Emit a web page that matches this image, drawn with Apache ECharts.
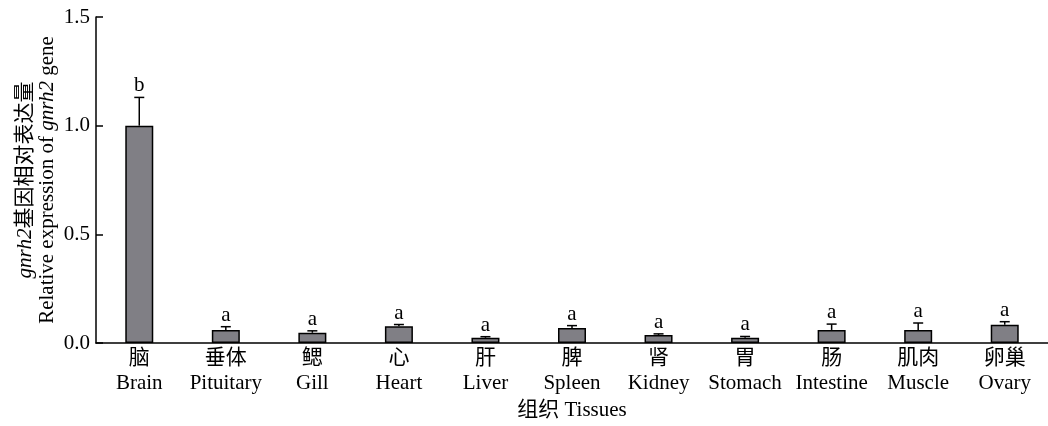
<!DOCTYPE html>
<html><head><meta charset="utf-8">
<script src="https://cdn.jsdelivr.net/npm/echarts@6/dist/echarts.min.js"></script>
<style>html,body{margin:0;padding:0;background:#fff}#c{width:1048px;height:426px}</style>
</head><body><div id="c"></div>
<script>
const catsCN = ['脑','垂体','鳃','心','肝','脾','肾','胃','肠','肌肉','卵巢'];
const catsEN = ['Brain','Pituitary','Gill','Heart','Liver','Spleen','Kidney','Stomach','Intestine','Muscle','Ovary'];
const means = [1.0, 0.06, 0.047, 0.077, 0.024, 0.069, 0.037, 0.024, 0.06, 0.06, 0.084];
const errs = [0.13, 0.015, 0.009, 0.008, 0.005, 0.011, 0.005, 0.006, 0.027, 0.032, 0.014];
const letters = ['b','a','a','a','a','a','a','a','a','a','a'];
const yTicks = [0, 0.5, 1.0, 1.5];

const serif = '"Liberation Serif","Times New Roman",serif';
const cjk = '"Liberation Serif","Noto Sans CJK SC",serif';
const chart = echarts.init(document.getElementById('c'));
const cats = catsEN.map((e,i)=>catsCN[i]+'\n'+e);
chart.setOption({
  animation:false,
  grid:{left:96, right:-8, top:17, bottom:82, containLabel:false},
  xAxis:{
    type:'category', data:cats,
    axisLine:{lineStyle:{color:'#000', width:1.5}},
    axisTick:{show:false},
    axisLabel:{color:'#000', fontFamily:cjk, fontSize:21, lineHeight:25, margin:3, interval:0},
    name:'组织 Tissues', nameLocation:'middle', nameGap:57, nameMoveOverlap:false,
    nameTextStyle:{color:'#000', fontFamily:cjk, fontSize:21}
  },
  yAxis:{
    type:'value', min:yTicks[0], max:yTicks[yTicks.length-1], interval:0.5,
    splitLine:{show:false},
    axisLine:{show:true, lineStyle:{color:'#000', width:1.5}},
    axisTick:{show:true, inside:true, length:7, lineStyle:{color:'#000', width:1.5}},
    axisLabel:{color:'#000', fontFamily:serif, fontSize:21, margin:6, formatter:v=>v.toFixed(1)},
    name:'{i|gnrh2}{n|基因相对表达量}\n{n|Relative expression of }{i|gnrh2}{n| gene}',
    nameLocation:'middle', nameRotate:90, nameGap:38, nameMoveOverlap:false,
    nameTextStyle:{color:'#000', lineHeight:22, align:'center',
      rich:{
        i:{fontFamily:serif, fontStyle:'italic', fontSize:21, color:'#000', lineHeight:22},
        n:{fontFamily:cjk, fontSize:21, color:'#000', lineHeight:22}
      }}
  },
  series:[
    {type:'bar', data:means, barWidth:28,
     itemStyle:{color:'#807f85', borderColor:'#000', borderWidth:1.5}},
    {type:'custom', data:means.map((m,i)=>[i,m,errs[i]]), z:5,
     renderItem:(params, api)=>{
       const i=api.value(0), m=api.value(1), e=api.value(2);
       const p0=api.coord([i,m]), p1=api.coord([i,m+e]);
       const cap=5;
       return {type:'group', children:[
         {type:'line', shape:{x1:p0[0],y1:p0[1],x2:p1[0],y2:p1[1]}, style:{stroke:'#000', lineWidth:1.5}},
         {type:'line', shape:{x1:p1[0]-cap,y1:p1[1],x2:p1[0]+cap,y2:p1[1]}, style:{stroke:'#000', lineWidth:1.5}},
         {type:'text', x:p1[0], y:p1[1]-1, style:{text:letters[params.dataIndex], fill:'#000', font:'21px '+serif, textAlign:'center', textVerticalAlign:'bottom'}}
       ]};
     }}
  ]
});
</script></body></html>
